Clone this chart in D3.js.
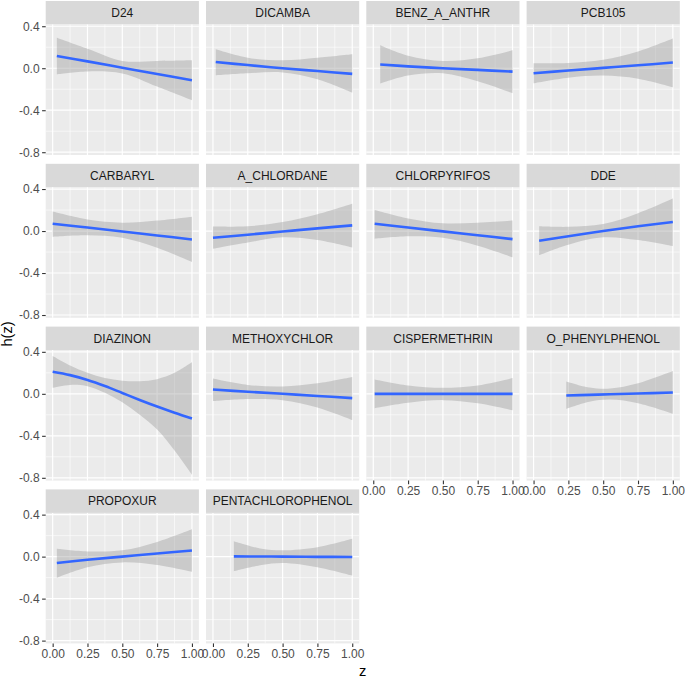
<!DOCTYPE html>
<html>
<head>
<meta charset="utf-8">
<script src="https://cdn.jsdelivr.net/npm/d3@7"></script>
<style>
  html, body { margin: 0; padding: 0; background: #ffffff; }
  svg { display: block; }
  text { font-family: "Liberation Sans", Arial, Helvetica, sans-serif; }
</style>
</head>
<body>
<div id="chart"></div>
<script>
// ---------------- data ----------------
const panels = ["D24", "DICAMBA", "BENZ_A_ANTHR", "PCB105",
                "CARBARYL", "A_CHLORDANE", "CHLORPYRIFOS", "DDE",
                "DIAZINON", "METHOXYCHLOR", "CISPERMETHRIN", "O_PHENYLPHENOL",
                "PROPOXUR", "PENTACHLOROPHENOL"];

const zPoints = [
  [0.03, 0.25, 0.5, 0.75, 1.0],
  [0.02, 0.25, 0.5, 0.75, 1.0],
  [0.05, 0.25, 0.5, 0.75, 1.0],
  [0.0, 0.25, 0.5, 0.75, 1.0],
  [0.0, 0.25, 0.5, 0.75, 1.0],
  [0.0, 0.25, 0.5, 0.75, 1.0],
  [0.01, 0.25, 0.5, 0.75, 1.0],
  [0.04, 0.25, 0.5, 0.75, 1.0],
  [0.0, 0.125, 0.25, 0.375, 0.5, 0.625, 0.75, 0.875, 1.0],
  [0.0, 0.25, 0.5, 0.75, 1.0],
  [0.01, 0.25, 0.5, 0.75, 1.0],
  [0.235, 0.4, 0.55, 0.75, 1.0],
  [0.03, 0.25, 0.5, 0.75, 1.0],
  [0.15, 0.35, 0.5, 0.75, 1.0]
];

const fitVals = [
  [0.117, 0.065, 0.005, -0.055, -0.114],
  [0.060, 0.030, 0.000, -0.027, -0.054],
  [0.035, 0.018, 0.000, -0.016, -0.032],
  [-0.048, -0.022, 0.003, 0.028, 0.054],
  [0.070, 0.033, -0.005, -0.042, -0.080],
  [-0.064, -0.035, -0.005, 0.025, 0.054],
  [0.070, 0.033, -0.003, -0.040, -0.077],
  [-0.093, -0.050, 0.000, 0.045, 0.086],
  [0.210, 0.178, 0.132, 0.074, 0.008, -0.058, -0.121, -0.180, -0.235],
  [0.041, 0.020, 0.000, -0.020, -0.041],
  [0.000, 0.000, 0.000, 0.000, 0.000],
  [-0.016, -0.010, -0.004, 0.003, 0.013],
  [-0.060, -0.030, 0.000, 0.030, 0.058],
  [0.002, 0.001, 0.000, -0.002, -0.004]
];

const upperVals = [
  [0.290, 0.185, 0.070, 0.070, 0.076],
  [0.180, 0.100, 0.075, 0.100, 0.133],
  [0.220, 0.120, 0.070, 0.095, 0.171],
  [0.048, 0.050, 0.080, 0.160, 0.283],
  [0.185, 0.110, 0.080, 0.100, 0.137],
  [0.042, 0.045, 0.085, 0.160, 0.260],
  [0.200, 0.120, 0.073, 0.080, 0.100],
  [0.045, 0.040, 0.067, 0.170, 0.310],
  [0.360, 0.270, 0.200, 0.150, 0.125, 0.120, 0.140, 0.200, 0.300],
  [0.146, 0.085, 0.070, 0.100, 0.160],
  [0.137, 0.080, 0.057, 0.080, 0.150],
  [0.118, 0.060, 0.050, 0.100, 0.217],
  [0.075, 0.050, 0.060, 0.140, 0.260],
  [0.147, 0.075, 0.060, 0.090, 0.170]
];

const lowerVals = [
  [-0.057, -0.030, -0.050, -0.175, -0.305],
  [-0.067, -0.048, -0.040, -0.105, -0.232],
  [-0.146, -0.070, -0.048, -0.125, -0.238],
  [-0.143, -0.090, -0.070, -0.100, -0.181],
  [-0.054, -0.040, -0.065, -0.160, -0.294],
  [-0.170, -0.110, -0.060, -0.086, -0.157],
  [-0.073, -0.050, -0.065, -0.140, -0.250],
  [-0.230, -0.130, -0.060, -0.086, -0.144],
  [0.057, 0.085, 0.073, 0.010, -0.080, -0.200, -0.340, -0.540, -0.770],
  [-0.070, -0.050, -0.060, -0.130, -0.250],
  [-0.137, -0.085, -0.060, -0.090, -0.156],
  [-0.143, -0.075, -0.055, -0.090, -0.190],
  [-0.200, -0.100, -0.055, -0.080, -0.145],
  [-0.140, -0.080, -0.060, -0.100, -0.180]
];

const xTicks = [0, 0.25, 0.5, 0.75, 1];
const xTickLabels = ["0.00", "0.25", "0.50", "0.75", "1.00"];
const xMinor = [0.125, 0.375, 0.625, 0.875];
const yTicks = [0.4, 0.0, -0.4, -0.8];
const yTickLabels = ["0.4", "0.0", "-0.4", "-0.8"];
const yMinor = [0.2, -0.2, -0.6];
const xTitle = "z";
const yTitle = "h(z)";

// ---------------- layout ----------------
const W = 685, H = 678;
const nCols = 4;
const panelLeft0 = 45.7, colPitch = 160.3, pw = 153.2;
const panelTop0 = 24.5, rowPitch = 162.8, ph = 130.5;
const stripH = 23.5;

const svg = d3.select("#chart").append("svg")
  .attr("width", W).attr("height", H);
svg.append("rect").attr("width", W).attr("height", H).attr("fill", "#ffffff");

const x = d3.scaleLinear().domain([-0.05, 1.05]).range([0, pw]);
const y = d3.scaleLinear().domain([-0.8265, 0.4165]).range([ph, 0]);

const nPanels = panels.length;
const nRows = Math.ceil(nPanels / nCols);
const curve = d3.curveCatmullRom.alpha(0.5);

panels.forEach((name, i) => {
  const col = i % nCols, row = Math.floor(i / nCols);
  const px = panelLeft0 + col * colPitch;
  const py = panelTop0 + row * rowPitch;
  const g = svg.append("g").attr("transform", `translate(${px},${py})`);

  // strip
  g.append("rect").attr("x", 0).attr("y", -stripH).attr("width", pw).attr("height", stripH)
    .attr("fill", "#D9D9D9");
  g.append("text").attr("x", pw / 2).attr("y", -stripH / 2 + 4.2)
    .attr("text-anchor", "middle").attr("font-size", 12).attr("fill", "#1A1A1A")
    .text(name);

  // panel background
  g.append("rect").attr("width", pw).attr("height", ph).attr("fill", "#EBEBEB");

  // grid
  const grid = g.append("g");
  yMinor.forEach(v => grid.append("line").attr("x1", 0).attr("x2", pw)
    .attr("y1", y(v)).attr("y2", y(v)).attr("stroke", "#ffffff").attr("stroke-width", 0.6));
  xMinor.forEach(v => grid.append("line").attr("y1", 0).attr("y2", ph)
    .attr("x1", x(v)).attr("x2", x(v)).attr("stroke", "#ffffff").attr("stroke-width", 0.6));
  yTicks.forEach(v => grid.append("line").attr("x1", 0).attr("x2", pw)
    .attr("y1", y(v)).attr("y2", y(v)).attr("stroke", "#ffffff").attr("stroke-width", 1.2));
  xTicks.forEach(v => grid.append("line").attr("y1", 0).attr("y2", ph)
    .attr("x1", x(v)).attr("x2", x(v)).attr("stroke", "#ffffff").attr("stroke-width", 1.2));

  // data
  const pts = zPoints[i].map((z, k) => ({ z, f: fitVals[i][k], u: upperVals[i][k], l: lowerVals[i][k] }));
  const area = d3.area().x(d => x(d.z)).y0(d => y(d.l)).y1(d => y(d.u)).curve(curve);
  const line = d3.line().x(d => x(d.z)).y(d => y(d.f)).curve(curve);
  g.append("path").datum(pts).attr("d", area).attr("fill", "#999999").attr("fill-opacity", 0.4);
  g.append("path").datum(pts).attr("d", line).attr("fill", "none")
    .attr("stroke", "#3366FF").attr("stroke-width", 2.6);

  // y axis on first column
  if (col === 0) {
    const ax = g.append("g").call(d3.axisLeft(y).tickValues(yTicks)
      .tickFormat((d, k) => yTickLabels[k]).tickSize(3.6).tickPadding(2.5));
    ax.select(".domain").remove();
    ax.selectAll(".tick line").attr("stroke", "#333333").attr("stroke-width", 1.1);
    ax.selectAll(".tick text").attr("font-size", 12).attr("fill", "#4D4D4D")
      .attr("font-family", "'Liberation Sans', Arial, sans-serif");
  }
  // x axis on bottom panel of each column
  const isBottom = (i + nCols >= nPanels);
  if (isBottom) {
    const ax = g.append("g").attr("transform", `translate(0,${ph})`)
      .call(d3.axisBottom(x).tickValues(xTicks)
        .tickFormat((d, k) => xTickLabels[k]).tickSize(3.6).tickPadding(2.5));
    ax.select(".domain").remove();
    ax.selectAll(".tick line").attr("stroke", "#333333").attr("stroke-width", 1.1);
    ax.selectAll(".tick text").attr("font-size", 12).attr("fill", "#4D4D4D")
      .attr("font-family", "'Liberation Sans', Arial, sans-serif");
  }
});

// axis titles
const plotLeft = panelLeft0, plotRight = panelLeft0 + (nCols - 1) * colPitch + pw;
const plotTop = panelTop0, plotBottom = panelTop0 + (nRows - 1) * rowPitch + ph;
svg.append("text").attr("x", (plotLeft + plotRight) / 2).attr("y", 676)
  .attr("text-anchor", "middle").attr("font-size", 14.7).attr("fill", "#000000")
  .text(xTitle);
svg.append("text")
  .attr("transform", `translate(12,${(plotTop + plotBottom) / 2}) rotate(-90)`)
  .attr("text-anchor", "middle").attr("font-size", 14.7).attr("fill", "#000000")
  .text(yTitle);
</script>
</body>
</html>
